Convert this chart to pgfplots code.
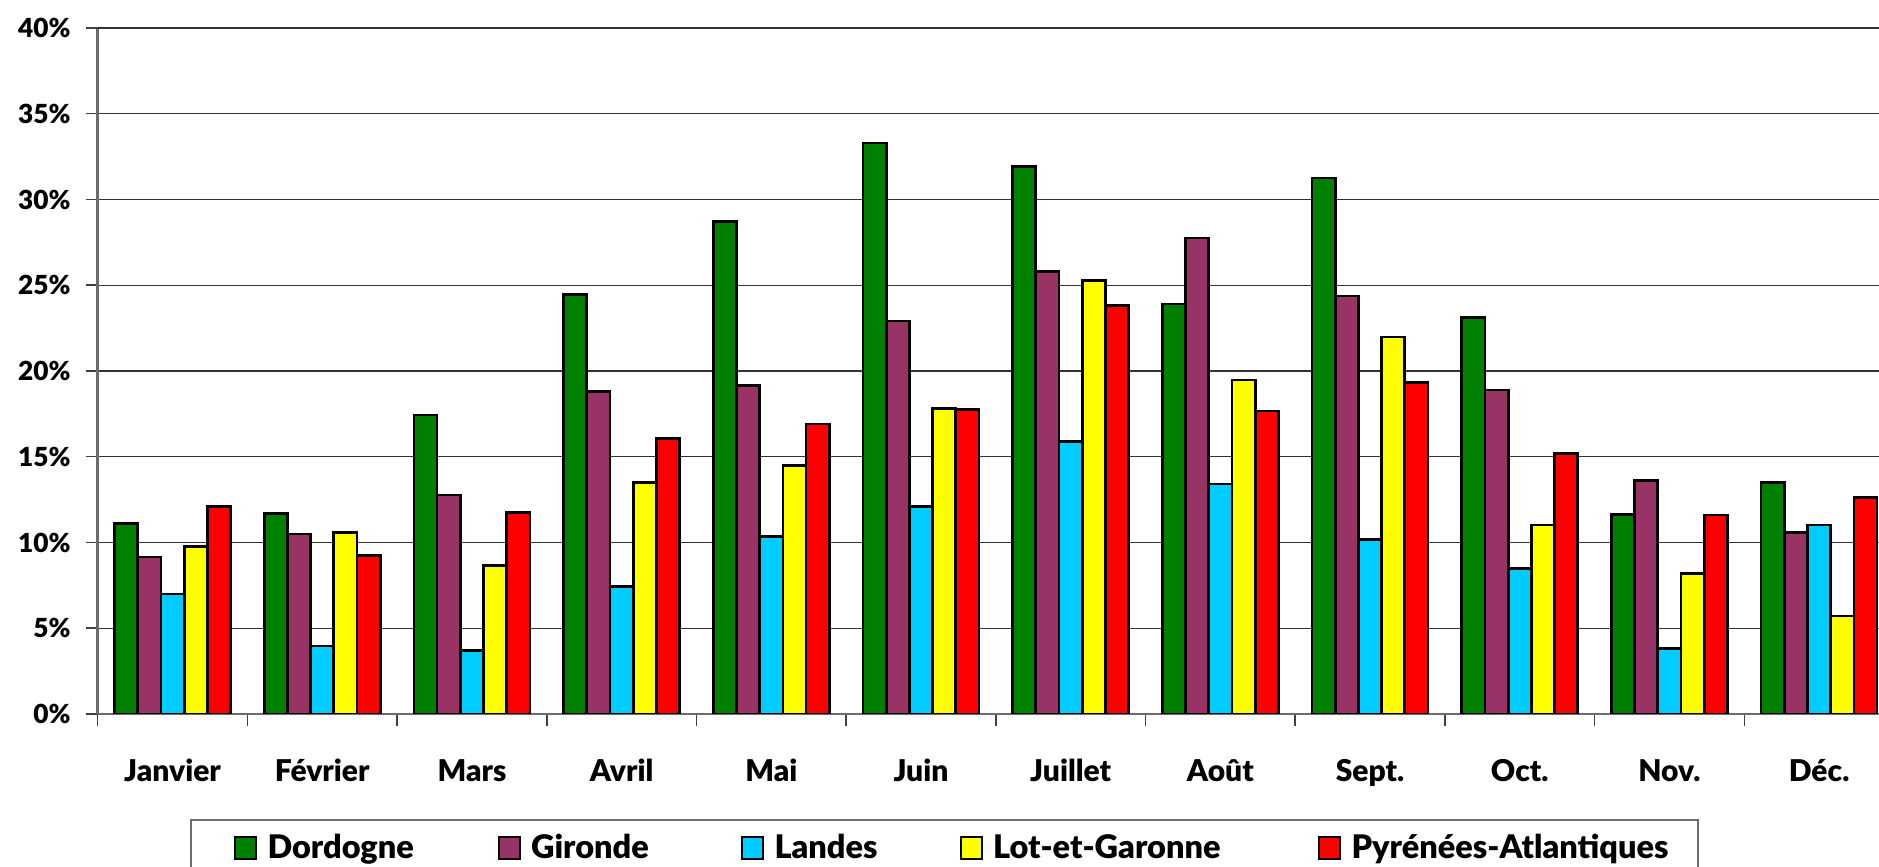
\documentclass[border=0pt]{standalone}
\usepackage{pgfplots}
\pgfplotsset{compat=1.18}
\usepackage{fontspec}
\setmainfont{Lato}[BoldFont={Lato Black}]
\definecolor{cDor}{HTML}{008000}
\definecolor{cGir}{HTML}{993366}
\definecolor{cLan}{HTML}{00CCFF}
\definecolor{cLot}{HTML}{FFFF00}
\definecolor{cPyr}{HTML}{FF0000}
\pgfplotsset{
  sqlegend/.style={legend image code/.code={%
    \draw[##1, draw=black, line width=0.9pt] (0pt,0pt) rectangle (8.4pt,8.7pt);
    \path (12.4pt,0pt);}},
}
\begin{document}
\begin{tikzpicture}
\path[use as bounding box] (0,0) rectangle (751.6pt,346.8pt);
\begin{axis}[
  at={(39.08pt,61.2pt)}, anchor=south west,
  scale only axis, width=712.5pt, height=274.4pt,
  ybar=0pt, bar width=9.28pt,
  xmin=-0.5, xmax=11.4, ymin=0, ymax=40,
  axis x line*=bottom, axis y line*=left,
  axis line style={gray!85!black, line width=1pt, -},
  tick align=outside, major tick length=4.7pt,
  tick style={black!75, line width=0.6pt},
  xtick={-0.5,0.5,...,10.5}, xticklabels={},
  extra x ticks={0,1,2,3,4,5,6,7,8,9,10,11},
  extra x tick labels={Janvier,Février,Mars,Avril,Mai,Juin,Juillet,Août,Sept.,Oct.,Nov.,Déc.},
  extra x tick style={major tick length=0pt},
  ytick={0,5,...,35},
  yticklabels={0\%,5\%,10\%,15\%,20\%,25\%,30\%,35\%},
  extra y ticks={40}, extra y tick labels={40\%},
  extra y tick style={grid style={gray!85!black, line width=1pt}},
  ymajorgrids, major grid style={black!80, line width=0.5pt},
  x tick label style={font=\bfseries\fontsize{12}{14}\selectfont, anchor=base, inner sep=0pt, yshift=-27.2pt},
  y tick label style={font=\bfseries\fontsize{10.5}{12}\selectfont, anchor=east, inner sep=0pt, xshift=-6pt},
  legend columns=5,
  legend style={at={(rel axis cs:0,0)}, anchor=north west, xshift=36.92pt, yshift=-42pt,
    draw=gray!85!black, line width=0.8pt, inner xsep=17.2pt, inner ysep=6.4pt,
    column sep=0pt, font=\bfseries\fontsize{13}{15}\selectfont,
    cells={anchor=base west},
    nodes={inner sep=0pt, text height=8.7pt, text depth=2pt}},
]
\addplot[fill=cDor, draw=black, line width=1.1pt, sqlegend] coordinates {(0,11.12) (1,11.68) (2,17.43) (3,24.47) (4,28.70) (5,33.29) (6,31.91) (7,23.91) (8,31.26) (9,23.12) (10,11.64) (11,13.48)};
\addplot[fill=cGir, draw=black, line width=1.1pt, sqlegend] coordinates {(0,9.15) (1,10.50) (2,12.77) (3,18.79) (4,19.15) (5,22.92) (6,25.80) (7,27.75) (8,24.37) (9,18.89) (10,13.62) (11,10.57)};
\addplot[fill=cLan, draw=black, line width=1.1pt, sqlegend] coordinates {(0,7.00) (1,3.96) (2,3.69) (3,7.44) (4,10.34) (5,12.10) (6,15.89) (7,13.41) (8,10.17) (9,8.48) (10,3.84) (11,11.02)};
\addplot[fill=cLot, draw=black, line width=1.1pt, sqlegend] coordinates {(0,9.76) (1,10.60) (2,8.65) (3,13.48) (4,14.49) (5,17.83) (6,25.29) (7,19.47) (8,21.98) (9,11.02) (10,8.19) (11,5.72)};
\addplot[fill=cPyr, draw=black, line width=1.1pt, sqlegend] coordinates {(0,12.11) (1,9.23) (2,11.74) (3,16.06) (4,16.91) (5,17.75) (6,23.82) (7,17.66) (8,19.32) (9,15.17) (10,11.60) (11,12.61)};
\legend{\makebox[92pt][l]{Dordogne},\makebox[84pt][l]{Gironde},\makebox[74pt][l]{Landes},\makebox[130pt][l]{Lot-et-Garonne},\makebox[121.4pt][l]{Pyrénées-Atlantiques}}
\end{axis}
\end{tikzpicture}
\end{document}
